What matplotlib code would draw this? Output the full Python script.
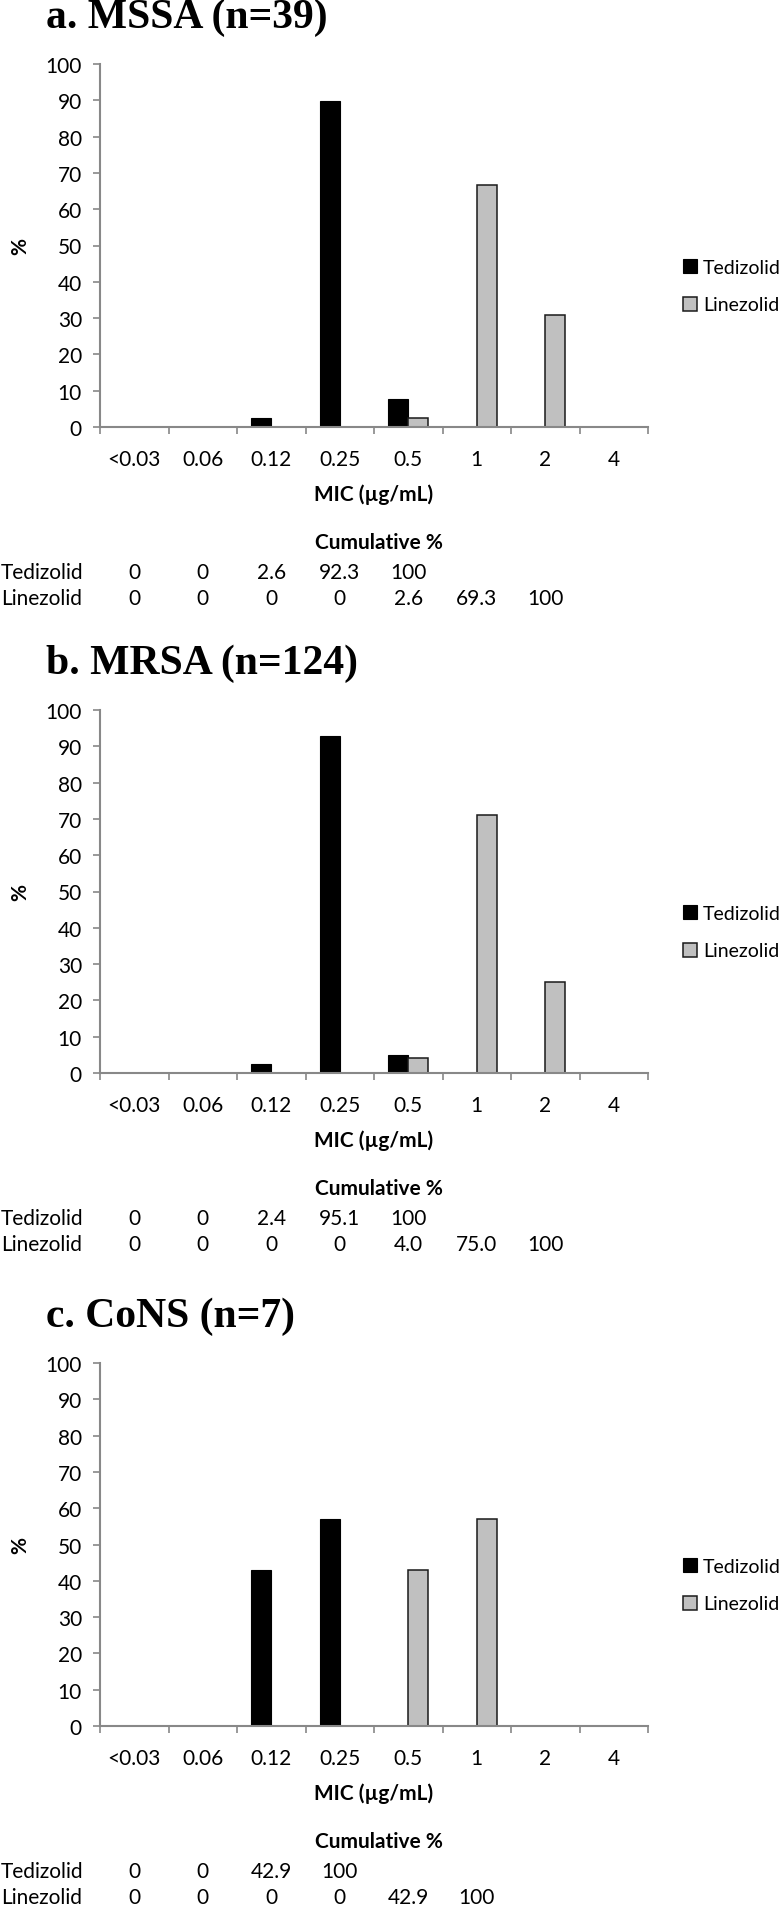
import numpy as np
import matplotlib
matplotlib.use('Agg')
import matplotlib.pyplot as plt
import matplotlib.transforms as mtrans

plt.rcParams['font.family'] = ['Lato', 'DejaVu Sans']

# MIC categories
mic_labels = ['<0.03', '0.06', '0.12', '0.25', '0.5', '1', '2', '4']

# % of isolates per MIC
mssa_ted = [0, 0, 2.6, 89.7, 7.7, 0, 0, 0]
mssa_lzd = [0, 0, 0, 0, 2.6, 66.7, 30.8, 0]
mrsa_ted = [0, 0, 2.4, 92.7, 4.9, 0, 0, 0]
mrsa_lzd = [0, 0, 0, 0, 4.0, 71.0, 25.0, 0]
cons_ted = [0, 0, 42.9, 57.1, 0, 0, 0, 0]
cons_lzd = [0, 0, 0, 0, 42.9, 57.1, 0, 0]

# cumulative % rows under each chart
mssa_cum_ted = ['0', '0', '2.6', '92.3', '100']
mssa_cum_lzd = ['0', '0', '0', '0', '2.6', '69.3', '100']
mrsa_cum_ted = ['0', '0', '2.4', '95.1', '100']
mrsa_cum_lzd = ['0', '0', '0', '0', '4.0', '75.0', '100']
cons_cum_ted = ['0', '0', '42.9', '100']
cons_cum_lzd = ['0', '0', '0', '0', '42.9', '100']

titles = ['a. MSSA (n=39)', 'b. MRSA (n=124)', 'c. CoNS (n=7)']
drugs = ['Tedizolid', 'Linezolid']

W, H = 780, 1908
fig = plt.figure(figsize=(W/100, H/100), dpi=100)

AX_L, AX_W, AX_H = 100, 548, 363
bottoms = [428, 1074, 1727]      # pixel y of x-axis, from top
axis_grey = '#888888'
fs = 15

panels = [
    (mssa_ted, mssa_lzd, mssa_cum_ted, mssa_cum_lzd),
    (mrsa_ted, mrsa_lzd, mrsa_cum_ted, mrsa_cum_lzd),
    (cons_ted, cons_lzd, cons_cum_ted, cons_cum_lzd),
]

bw = 0.29
x = np.arange(len(mic_labels))

for k, (ted, lzd, cted, clzd) in enumerate(panels):
    b = bottoms[k]
    ax = fig.add_axes([AX_L/W, 1 - b/H, AX_W/W, AX_H/H])

    ted = np.array(ted); lzd = np.array(lzd)
    m1 = ted > 0; m2 = lzd > 0
    ax.bar(x[m1] - bw/2, ted[m1], bw, color='black', edgecolor='black',
           linewidth=0.8, label=drugs[0])
    ax.bar(x[m2] + bw/2, lzd[m2], bw, color='#c0c0c0', edgecolor='#1a1a1a',
           linewidth=1.1, label=drugs[1])

    ax.set_xlim(-0.5, len(mic_labels) - 0.5)
    ax.set_ylim(0, 100)
    ax.set_yticks(np.arange(0, 101, 10))
    ax.set_xticks(x)
    ax.set_xticklabels(mic_labels)
    ax.set_xticks(np.arange(-0.5, len(mic_labels)), minor=True)
    ax.tick_params(axis='x', which='major', length=0, pad=16, labelsize=fs)
    ax.tick_params(axis='x', which='minor', length=5, width=1.2,
                   color=axis_grey, direction='out')
    ax.tick_params(axis='y', length=5, width=1.2, color=axis_grey,
                   pad=8, labelsize=fs)
    for s in ['top', 'right']:
        ax.spines[s].set_visible(False)
    for s in ['left', 'bottom']:
        ax.spines[s].set_color(axis_grey)
        ax.spines[s].set_linewidth(1.5)

    ax.set_ylabel('%', fontsize=fs, fontweight='bold', labelpad=11)
    ax.set_xlabel('MIC (\u00b5g/mL)', fontsize=fs, fontweight='bold', labelpad=10)

    leg = ax.legend(loc='center left', bbox_to_anchor=(1.064, 0.388),
                    frameon=False, fontsize=14, handlelength=0.72,
                    handleheight=0.72, handletextpad=0.3, labelspacing=1.05,
                    borderpad=0, borderaxespad=0)

    # title above the chart
    fig.text(46/W, 1 - (b - AX_H - 47)/H, titles[k], family='Liberation Serif',
             fontweight='bold', fontsize=30, ha='left', va='center')

    # cumulative % table
    tr = mtrans.blended_transform_factory(ax.transData, ax.transAxes)
    tr_row = mtrans.blended_transform_factory(fig.transFigure, ax.transAxes)
    ax.text(np.mean(ax.get_xlim()) + 0.07, -115/AX_H, 'Cumulative %', transform=tr,
            ha='center', va='center', fontsize=fs, fontweight='bold', clip_on=False)
    for r, (name, vals) in enumerate([(drugs[0], cted), (drugs[1], clzd)]):
        yy = -(145 + 26*r)/AX_H
        ax.text(1/W, yy, name, transform=tr_row, ha='left', va='center',
                fontsize=fs, clip_on=False)
        for i, v in enumerate(vals):
            ax.text(x[i], yy, v, transform=tr, ha='center', va='center',
                    fontsize=fs, clip_on=False)

fig.savefig('out.png', dpi=100)
